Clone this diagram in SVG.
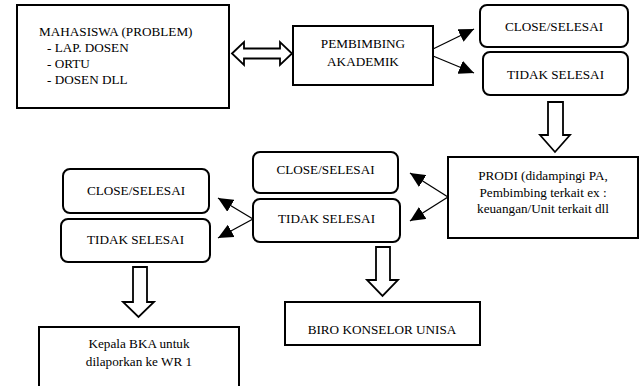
<svg xmlns="http://www.w3.org/2000/svg" width="640" height="386" viewBox="0 0 640 386">
<defs>
<style>
.box{fill:#fff;stroke:#000;stroke-width:2}
.ln{stroke:#000;stroke-width:1.3;fill:none}
.big{fill:#fff;stroke:#000;stroke-width:1.8;stroke-linejoin:miter}
</style>
<marker id="ah" markerUnits="userSpaceOnUse" markerWidth="15" markerHeight="14" viewBox="0 0 15 14" refX="15" refY="7" orient="auto">
<path d="M0,0 L15,7 L0,14 z" fill="#000"/>
</marker>
</defs>
<rect width="640" height="386" fill="#fff"/>

<g id="connectors">
<polygon class="big" points="232,53.5 244,42 244,48.5 280,48.5 280,42 292,53.5 280,65 280,58.5 244,58.5 244,65"/>
<line class="ln" x1="433" y1="49" x2="474" y2="29" marker-end="url(#ah)"/>
<line class="ln" x1="433" y1="56" x2="474" y2="73" marker-end="url(#ah)"/>
<polygon class="big" points="548,102 563,102 563,135 570,135 555,152 540,135 548,135"/>
<line class="ln" x1="448" y1="197" x2="410" y2="173" marker-end="url(#ah)"/>
<line class="ln" x1="448" y1="197" x2="410" y2="221" marker-end="url(#ah)"/>
<line class="ln" x1="253" y1="219" x2="218" y2="198" marker-end="url(#ah)"/>
<line class="ln" x1="253" y1="219" x2="218" y2="238" marker-end="url(#ah)"/>
<polygon class="big" points="376,247 390,247 390,280 398,280 382.5,296 367,280 376,280"/>
<polygon class="big" points="133,267 147,267 147,302 154,302 138.5,317 123,302 133,302"/>
</g>

<g id="mahasiswa">
<rect class="box" x="17" y="5" width="212" height="103"/>
<text font-family="Liberation Serif" font-size="13.2" x="39" y="36">MAHASISWA (PROBLEM)</text>
<text font-family="Liberation Serif" font-size="13.2" x="47" y="52">- LAP. DOSEN</text>
<text font-family="Liberation Serif" font-size="13.2" x="47" y="68">- ORTU</text>
<text font-family="Liberation Serif" font-size="13.2" x="47" y="84">- DOSEN DLL</text>
</g>

<g id="pembimbing">
<rect class="box" x="293" y="26" width="140" height="59"/>
<text font-family="Liberation Serif" font-size="13.2" text-anchor="middle" x="363" y="48">PEMBIMBING</text>
<text font-family="Liberation Serif" font-size="13.2" text-anchor="middle" x="363" y="66">AKADEMIK</text>
</g>

<g id="close1">
<rect class="box" x="480" y="5" width="148" height="42" rx="7"/>
<text font-family="Liberation Serif" font-size="13.2" text-anchor="middle" x="554" y="31">CLOSE/SELESAI</text>
</g>

<g id="tidak1">
<rect class="box" x="483" y="52" width="145" height="43" rx="7"/>
<text font-family="Liberation Serif" font-size="13.2" text-anchor="middle" x="555.5" y="79">TIDAK SELESAI</text>
</g>

<g id="prodi">
<rect class="box" x="448" y="157" width="190" height="81"/>
<text font-family="Liberation Serif" font-size="13.2" text-anchor="middle" x="543" y="180">PRODI (didampingi PA,</text>
<text font-family="Liberation Serif" font-size="13.2" text-anchor="middle" x="543" y="197">Pembimbing terkait ex :</text>
<text font-family="Liberation Serif" font-size="13.2" text-anchor="middle" x="543" y="213">keuangan/Unit terkait dll</text>
</g>

<g id="close2">
<rect class="box" x="253" y="152" width="145" height="41" rx="7"/>
<text font-family="Liberation Serif" font-size="13.2" text-anchor="middle" x="325.5" y="174">CLOSE/SELESAI</text>
</g>

<g id="tidak2">
<rect class="box" x="253" y="199" width="147" height="43" rx="7"/>
<text font-family="Liberation Serif" font-size="13.2" text-anchor="middle" x="326.5" y="223">TIDAK SELESAI</text>
</g>

<g id="close3">
<rect class="box" x="63" y="169" width="146" height="44" rx="7"/>
<text font-family="Liberation Serif" font-size="13.2" text-anchor="middle" x="136" y="195">CLOSE/SELESAI</text>
</g>

<g id="tidak3">
<rect class="box" x="61" y="219" width="149" height="43" rx="7"/>
<text font-family="Liberation Serif" font-size="13.2" text-anchor="middle" x="135.5" y="244">TIDAK SELESAI</text>
</g>

<g id="biro">
<rect class="box" x="285" y="302" width="195" height="43"/>
<text font-family="Liberation Serif" font-size="13.2" text-anchor="middle" x="382" y="334">BIRO KONSELOR UNISA</text>
</g>

<g id="kepala">
<rect class="box" x="39" y="327" width="200" height="70"/>
<text font-family="Liberation Serif" font-size="13.2" text-anchor="middle" x="139" y="348">Kepala BKA untuk</text>
<text font-family="Liberation Serif" font-size="13.2" text-anchor="middle" x="139" y="366">dilaporkan ke WR 1</text>
</g>
</svg>
